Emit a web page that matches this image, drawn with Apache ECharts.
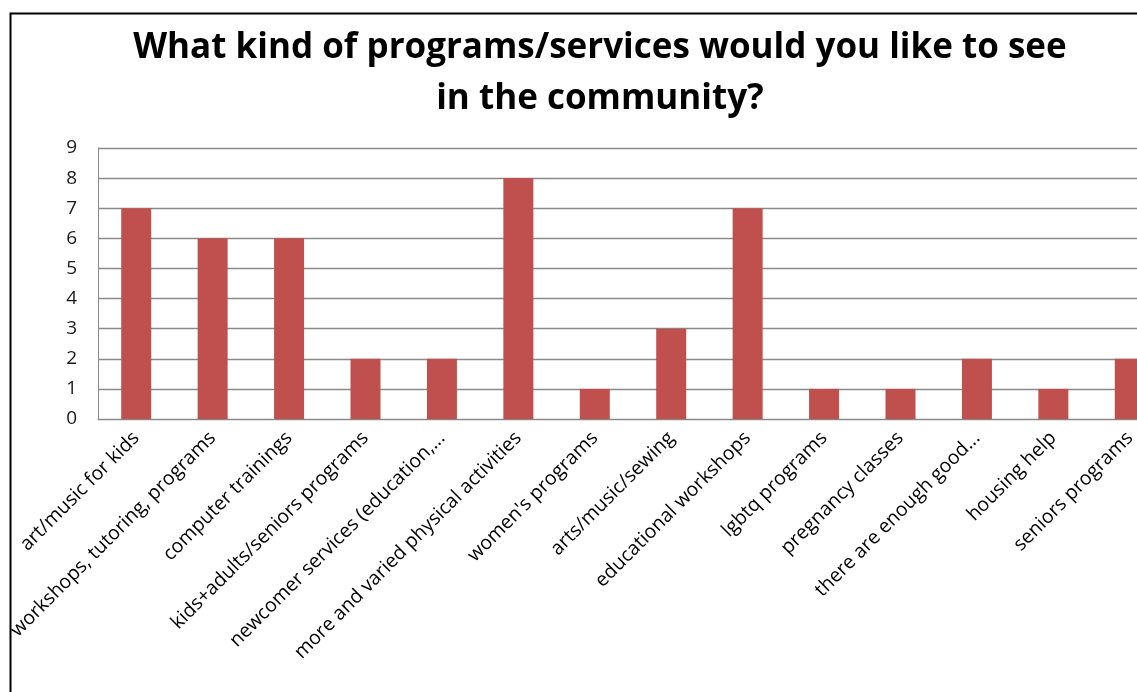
<!DOCTYPE html>
<html>
<head>
<meta charset="utf-8">
<script src="https://cdn.jsdelivr.net/npm/echarts@6/dist/echarts.min.js"></script>
<style>
    html, body { margin: 0; padding: 0; background: #fff; overflow: hidden; }
    #chart { width: 1200px; height: 692px; }
</style>
</head>
<body>
<div id="chart"></div>
<script>

// Chart data
// ------------------------------

var categories = [
    'art/music for kids',
    'workshops, tutoring, programs',
    'computer trainings',
    'kids+adults/seniors programs',
    'newcomer services (education,...',
    'more and varied physical activities',
    "women's programs",
    'arts/music/sewing',
    'educational workshops',
    'lgbtq programs',
    'pregnancy classes',
    'there are enough good...',
    'housing help',
    'seniors programs'
];

var counts = [7, 6, 6, 2, 2, 8, 1, 3, 7, 1, 1, 2, 1, 2];

var yTicks = [0, 9, 1];   // min, max, interval


// Init chart
// ------------------------------

var chart_element = document.getElementById('chart');
var chart = echarts.init(chart_element, null, { renderer: 'canvas' });

chart.setOption({

    animation: false,

    // Outer frame (right and bottom edges fall outside the window)
    graphic: [{
        type: 'rect',
        left: 8,
        top: 11,
        shape: { width: 1300, height: 800 },
        style: { fill: 'none', stroke: '#000', lineWidth: 2 },
        silent: true
    }],

    // Title
    title: {
        text: 'What kind of programs/services would you like to see\nin the community?',
        left: 'center',
        top: 18,
        textStyle: {
            fontFamily: 'Open Sans',
            fontWeight: 'bold',
            fontSize: 35,
            lineHeight: 51,
            color: '#000'
        }
    },

    grid: {
        left: 98,
        top: 148,
        width: 1070,
        height: 271,
        containLabel: false
    },

    xAxis: {
        type: 'category',
        data: categories,
        axisLine: { lineStyle: { color: '#888', width: 1 } },
        axisTick: { show: false },
        axisLabel: {
            interval: 0,
            rotate: 45,
            margin: 16,
            fontFamily: 'Open Sans',
            fontSize: 19.5,
            color: '#000'
        }
    },

    yAxis: {
        type: 'value',
        min: yTicks[0],
        max: yTicks[1],
        interval: yTicks[2],
        axisLine: { show: true, lineStyle: { color: '#888', width: 1 } },
        axisTick: { show: false },
        splitLine: { lineStyle: { color: '#8a8a8a', width: 1.3 } },
        axisLabel: {
            margin: 21,
            fontFamily: 'Open Sans',
            fontSize: 19,
            color: '#1a1a1a'
        }
    },

    series: [{
        type: 'bar',
        data: counts,
        barWidth: 30,
        itemStyle: { color: '#C0504D' }
    }]
});

</script>
</body>
</html>
